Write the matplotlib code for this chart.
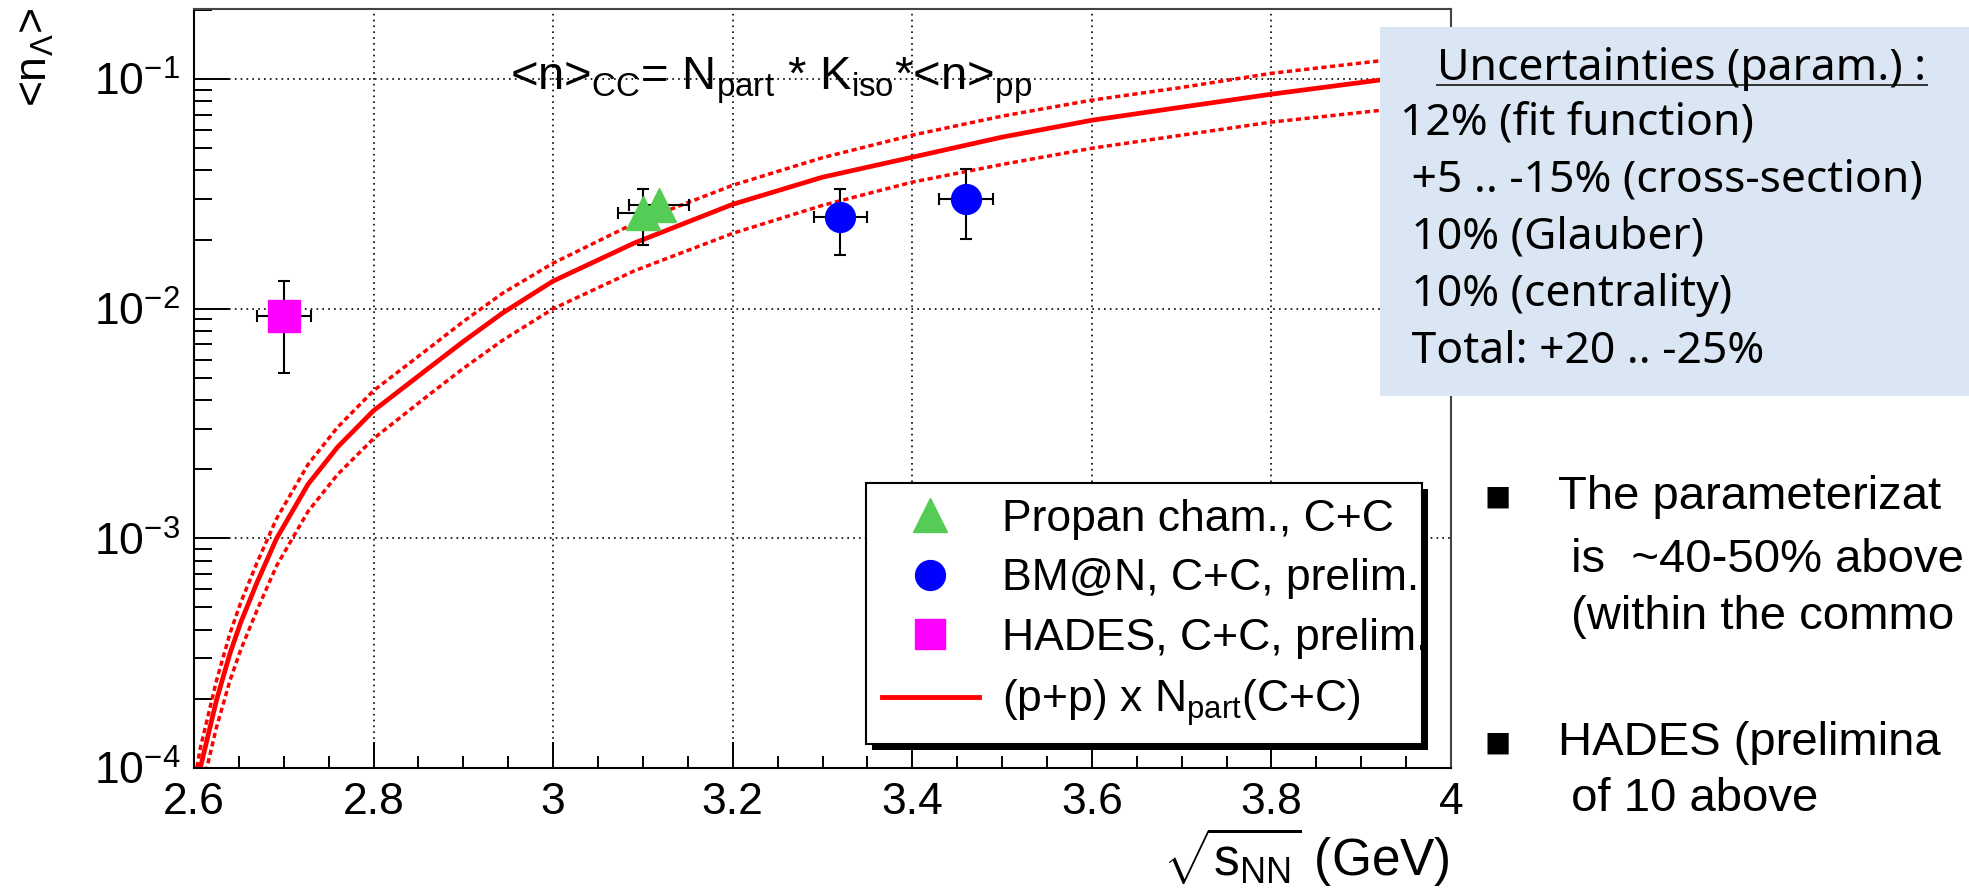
import matplotlib
matplotlib.use('Agg')

import matplotlib.pyplot as plt
from matplotlib.lines import Line2D
from matplotlib.patches import Rectangle
from matplotlib.ticker import MultipleLocator, FuncFormatter, LogLocator

# sqrt(s_NN) grid of the parameterisation curves
energy_curve = [2.600, 2.607, 2.625, 2.640, 2.652, 2.670, 2.692, 2.727, 2.760,
                2.800, 2.861, 2.900, 2.944, 3.000, 3.090, 3.200, 3.300, 3.400,
                3.500, 3.600, 3.700, 3.800, 3.920, 4.000]
param_central = [7.0e-5, 1.0e-4, 1.97e-4, 3.15e-4, 4.3e-4, 6.4e-4, 1.0e-3, 1.72e-3, 2.5e-3,
                 3.6e-3, 5.5e-3, 7.2e-3, 9.6e-3, 1.32e-2, 1.93e-2, 2.85e-2, 3.74e-2, 4.57e-2,
                 5.59e-2, 6.62e-2, 7.55e-2, 8.6e-2, 9.9e-2, 1.06e-1]
param_upper = [8.5e-5, 1.22e-4, 2.4e-4, 3.85e-4, 5.25e-4, 7.8e-4, 1.22e-3, 2.1e-3, 3.05e-3,
               4.4e-3, 6.7e-3, 8.8e-3, 1.17e-2, 1.58e-2, 2.35e-2, 3.45e-2, 4.55e-2, 5.7e-2,
               6.9e-2, 8.1e-2, 9.2e-2, 1.06e-1, 1.2e-1, 1.29e-1]
param_lower = [5.3e-5, 7.6e-5, 1.5e-4, 2.4e-4, 3.27e-4, 4.85e-4, 7.6e-4, 1.31e-3, 1.9e-3,
               2.72e-3, 4.2e-3, 5.5e-3, 7.3e-3, 1.0e-2, 1.46e-2, 2.13e-2, 2.82e-2, 3.56e-2,
               4.25e-2, 5.0e-2, 5.7e-2, 6.5e-2, 7.3e-2, 7.8e-2]

# measurements: value, lower / upper end of the vertical error bar, half-width in x
propan_x = [3.100, 3.118]
propan_y = [0.0261, 0.0283]
propan_low = [0.0189, 0.0283]
propan_high = [0.0332, 0.0283]
propan_xerr = [0.028, 0.033]

bmn_x = [3.320, 3.460]
bmn_y = [0.0251, 0.0300]
bmn_low = [0.0171, 0.0201]
bmn_high = [0.0332, 0.0405]
bmn_xerr = [0.030, 0.030]

hades_x = [2.700]
hades_y = [0.00927]
hades_low = [0.00524]
hades_high = [0.0132]
hades_xerr = [0.030]

legend_labels = ['Propan cham., C+C', 'BM@N, C+C, prelim.', 'HADES, C+C, prelim.',
                 '(p+p) x N$_{part}$(C+C)']
uncert_title = 'Uncertainties (param.) :'
uncert_lines = ['12% (fit function)', ' +5 .. -15% (cross-section)', ' 10% (Glauber)',
                ' 10% (centrality)', ' Total: +20 .. -25%']
bullet_lines = [('\u25A0', 'The parameterizat'), (None, ' is  ~40-50% above'),
                (None, ' (within the commo'), ('\u25A0', 'HADES (prelimina'),
                (None, ' of 10 above')]

GREEN = '#55cc55'
BLUE = '#0000ff'
MAGENTA = '#ff00ff'
RED = '#ff0000'
BOX = '#dae6f3'

plt.rcParams['font.family'] = ['Liberation Sans', 'DejaVu Sans']
plt.rcParams['mathtext.fontset'] = 'custom'
plt.rcParams['mathtext.rm'] = 'Liberation Sans'
plt.rcParams['mathtext.it'] = 'Liberation Sans:italic'
plt.rcParams['mathtext.bf'] = 'Liberation Sans:bold'
plt.rcParams['mathtext.default'] = 'regular'

W, H = 1969, 893


def fx(px):
    return px / W


def fy(py):
    return 1 - py / H


fig = plt.figure(figsize=(W / 100, H / 100), dpi=100, facecolor='white')
ax = fig.add_axes([fx(194), fy(768), fx(1451) - fx(194), fy(9) - fy(768)])
ax.set_yscale('log')
ax.set_xlim(2.6, 4.0)
ax.set_ylim(1e-4, 0.202)

# parameterisation band
ax.plot(energy_curve, param_upper, color=RED, lw=2.5, ls=(0, (1.5, 1.0)), zorder=2)
ax.plot(energy_curve, param_lower, color=RED, lw=2.5, ls=(0, (1.5, 1.0)), zorder=2)
ax.plot(energy_curve, param_central, color=RED, lw=3.4, zorder=2)


def draw_points(x, y, low, high, xerr, marker, color, ms):
    yerr = [[v - l for v, l in zip(y, low)], [h - v for v, h in zip(y, high)]]
    ax.errorbar(x, y, xerr=xerr, yerr=yerr, fmt=marker, ms=ms, color=color,
                mec=color, ecolor='black', elinewidth=1.5, capsize=4,
                capthick=1.5, zorder=3)


draw_points(propan_x, propan_y, propan_low, propan_high, propan_xerr, '^', GREEN, 24.5)
draw_points(bmn_x, bmn_y, bmn_low, bmn_high, bmn_xerr, 'o', BLUE, 21.5)
draw_points(hades_x, hades_y, hades_low, hades_high, hades_xerr, 's', MAGENTA, 23)

# axes styling in ROOT fashion
ax.xaxis.set_major_locator(MultipleLocator(0.2))
ax.xaxis.set_minor_locator(MultipleLocator(0.05))
ax.xaxis.set_major_formatter(FuncFormatter(lambda v, p: f'{v:g}'))
ax.yaxis.set_major_locator(LogLocator(base=10))
ax.yaxis.set_minor_locator(LogLocator(base=10, subs=range(2, 10)))
ax.tick_params(axis='x', which='major', direction='in', length=18.5, width=1.4,
               labelsize=32, pad=10)
ax.tick_params(axis='x', which='minor', direction='in', length=8.6, width=1.4)
ax.tick_params(axis='y', which='major', direction='in', length=25, width=1.4,
               labelsize=32, pad=10)
ax.tick_params(axis='y', which='minor', direction='in', length=13, width=1.4)
ax.tick_params(top=False, right=False, which='both')
for side, spine in ax.spines.items():
    spine.set_linewidth(1.5)
    spine.set_color('black' if side in ('left', 'bottom') else '#444444')
ax.grid(True, which='major', color='black', lw=1.2, ls=(0, (1, 2.5)))

ax.text((510 - 194) / 1257, (768 - 89) / 759,
        '<n>$_{CC}$= N$_{part}$ * K$_{iso}$*<n>$_{pp}$',
        transform=ax.transAxes, fontsize=34, ha='left', va='baseline', zorder=4)

fig.text(fx(35), fy(8), '<n$_{\\Lambda}$>', rotation=90, ha='center', va='top', fontsize=32)
fig.text(fx(1450), fy(857), r'$\sqrt{s_{NN}}$ (GeV)', ha='right', va='center', fontsize=37)

# legend with a ROOT-like solid shadow
handles = [Line2D([], [], ls='none', marker='^', ms=24.5, color=GREEN),
           Line2D([], [], ls='none', marker='o', ms=21.5, color=BLUE),
           Line2D([], [], ls='none', marker='s', ms=22, color=MAGENTA),
           Line2D([], [], color=RED, lw=3.5)]
x0 = (866 - 194) / 1257
wid = (1422 - 866) / 1257
ytop = (768 - 483) / 759
leg = ax.legend(handles, legend_labels, loc='upper left', bbox_to_anchor=(x0, ytop, wid, 0),
                mode='expand', borderaxespad=0, fontsize=32, handlelength=2.2,
                handletextpad=0.5, borderpad=0.35, labelspacing=0.42, fancybox=False,
                framealpha=1, edgecolor='black', facecolor='white')
leg.get_frame().set_linewidth(1.5)

# info box on the right
fig.patches.append(Rectangle((fx(1380), fy(396)), 1 - fx(1380), fy(27) - fy(396),
                             transform=fig.transFigure, facecolor=BOX, edgecolor='none',
                             zorder=5))
head = fig.text(fx(1682), fy(80), uncert_title, ha='center', va='baseline',
                fontsize=32, family=['Noto Sans', 'DejaVu Sans'], zorder=6)
for i, line in enumerate(uncert_lines):
    fig.text(fx(1400), fy(123 + 57.2 * i), line, ha='left', va='center', fontsize=32,
             family=['Noto Sans', 'DejaVu Sans'], zorder=6)

bullet_y = [497, 560, 617, 743, 799]
for (mark, line), yy in zip(bullet_lines, bullet_y):
    if mark:
        fig.text(fx(1498), fy(yy), mark, ha='center', va='center', fontsize=20,
                 family=['DejaVu Sans'])
    fig.text(fx(1558), fy(yy), line, ha='left', va='center', fontsize=34)

fig.canvas.draw()
renderer = fig.canvas.get_renderer()

bb = leg.get_window_extent(renderer)
inv = fig.transFigure.inverted()
(sx0, sy0), (sx1, sy1) = inv.transform([(bb.x0 + 6, bb.y0 - 6), (bb.x1 + 6, bb.y1 - 6)])
shadow = Rectangle((sx0, sy0), sx1 - sx0, sy1 - sy0, transform=fig.transFigure,
                   facecolor='black', edgecolor='none', zorder=leg.get_zorder() - 0.1,
                   clip_on=False)
ax.add_artist(shadow)

hb = head.get_window_extent(renderer)
uy = fy(85)
fig.add_artist(Line2D([hb.x0 / W, hb.x1 / W], [uy, uy], transform=fig.transFigure,
                      color='#333333', lw=1.4, zorder=6))

fig.savefig('out.png', dpi=100, facecolor='white')
